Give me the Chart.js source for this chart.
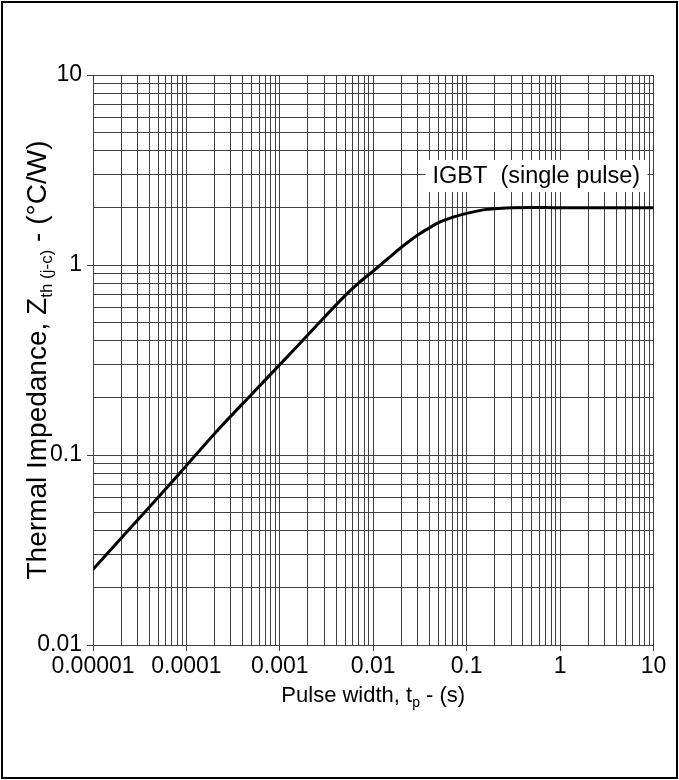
<!DOCTYPE html>
<html>
<head>
<meta charset="utf-8">
<script src="https://cdn.jsdelivr.net/npm/chart.js@4.4.1/dist/chart.umd.min.js"></script>
<style>
html,body{margin:0;padding:0;background:#fff;}
canvas{display:block;}
</style>
</head>
<body>
<canvas id="c" width="679" height="780"></canvas>
<script>
// ---- data ----
const pulseWidth = [1e-5, 2e-5, 5e-5, 1e-4, 2e-4, 5e-4, 1e-3, 2e-3, 5e-3, 7e-3, 1e-2, 1.5e-2, 2e-2, 3e-2, 4e-2, 5e-2, 7e-2, 0.1, 0.15, 0.2, 0.3, 0.5, 1, 2, 5, 10];
const zthIGBT    = [0.025, 0.0365, 0.060, 0.088, 0.1295, 0.209, 0.299, 0.429, 0.69, 0.805, 0.93, 1.10, 1.24, 1.44, 1.57, 1.67, 1.78, 1.87, 1.95, 1.98, 2.0, 2.01, 2.0, 2.0, 2.0, 2.0];
const xTickLabels = ['0.00001', '0.0001', '0.001', '0.01', '0.1', '1', '10'];
const yTickLabels = ['0.01', '0.1', '1', '10'];
const seriesLabel = 'IGBT  (single pulse)';
const xTitleParts = ['Pulse width, t', 'p', ' - (s)'];
const yTitleParts = ['Thermal Impedance, Z', 'th (j-c)', ' - (\u00B0C/W)'];
const xDecades = [-5, 1];
const yDecades = [-2, 1];

const FONT = '"Liberation Sans", Arial, Helvetica, sans-serif';

function buildTicks(lo, hi) {
  const t = [];
  for (let e = lo; e < hi; e++) {
    for (let k = 1; k <= 9; k++) t.push({ value: k * Math.pow(10, e) });
  }
  t.push({ value: Math.pow(10, hi) });
  return t;
}
function isMajor(v) {
  const l = Math.log10(v);
  return Math.abs(l - Math.round(l)) < 1e-9;
}
function labelFor(v, lo, labels) {
  if (!isMajor(v)) return '';
  return labels[Math.round(Math.log10(v)) - lo] || '';
}

const points = pulseWidth.map((t, i) => ({ x: t, y: zthIGBT[i] }));

function drawParts(ctx, parts, x, y, big, small, subShift) {
  let cx = x;
  parts.forEach((p, i) => {
    const sub = i === 1;
    ctx.font = (sub ? small : big) + 'px ' + FONT;
    ctx.fillText(p, cx, y + (sub ? subShift : 0));
    cx += ctx.measureText(p).width;
  });
}
function partsWidth(ctx, parts, big, small) {
  let w = 0;
  parts.forEach((p, i) => {
    ctx.font = (i === 1 ? small : big) + 'px ' + FONT;
    w += ctx.measureText(p).width;
  });
  return w;
}

const decorations = {
  id: 'decorations',
  afterDraw(chart) {
    const ctx = chart.ctx;
    const a = chart.chartArea;
    ctx.save();
    // series label box
    ctx.fillStyle = '#fff';
    ctx.fillRect(a.right - 228, a.top + 85, 222, 32);
    ctx.fillStyle = '#000';
    ctx.textBaseline = 'alphabetic';
    ctx.textAlign = 'left';
    ctx.font = '23.5px ' + FONT;
    ctx.fillText(seriesLabel, a.right - 221, a.top + 108);

    // x title
    const xw = partsWidth(ctx, xTitleParts, 22, 14);
    drawParts(ctx, xTitleParts, (a.left + a.right) / 2 - xw / 2, 702, 22, 14, 5);

    // y title (rotated)
    const yw = partsWidth(ctx, yTitleParts, 28, 17);
    ctx.save();
    ctx.translate(46, (a.top + a.bottom) / 2);
    ctx.rotate(-Math.PI / 2);
    drawParts(ctx, yTitleParts, -yw / 2, 0, 28, 17, 6);
    ctx.restore();

    // outer frame
    ctx.strokeStyle = '#000';
    ctx.lineWidth = 2;
    ctx.strokeRect(2, 2, 675, 776);
    ctx.restore();
  }
};

new Chart(document.getElementById('c'), {
  type: 'line',
  data: {
    datasets: [{
      label: seriesLabel,
      data: points,
      borderColor: '#000',
      borderWidth: 3,
      pointRadius: 0,
      fill: false,
      cubicInterpolationMode: 'monotone'
    }]
  },
  options: {
    responsive: false,
    animation: false,
    devicePixelRatio: 1,
    layout: { padding: { top: 75, right: 25.5, bottom: 95, left: 0 } },
    plugins: { legend: { display: false }, tooltip: { enabled: false } },
    scales: {
      x: {
        type: 'logarithmic',
        min: Math.pow(10, xDecades[0]),
        max: Math.pow(10, xDecades[1]),
        afterBuildTicks: s => { s.ticks = buildTicks(xDecades[0], xDecades[1]); },
        afterFit: s => { s.height = 40; },
        ticks: {
          autoSkip: false, maxRotation: 0, minRotation: 0, padding: 2,
          color: '#000', font: { family: FONT, size: 23 },
          callback: v => labelFor(v, xDecades[0], xTickLabels)
        },
        grid: {
          color: '#404040', lineWidth: 1, tickLength: 6,
          tickColor: c => (c.tick && isMajor(c.tick.value)) ? '#404040' : 'rgba(0,0,0,0)'
        },
        border: { display: true, color: '#404040', width: 1 }
      },
      y: {
        type: 'logarithmic',
        min: Math.pow(10, yDecades[0]),
        max: Math.pow(10, yDecades[1]),
        afterBuildTicks: s => { s.ticks = buildTicks(yDecades[0], yDecades[1]); },
        afterFit: s => { s.width = 93; },
        ticks: {
          autoSkip: false, padding: 5,
          color: '#000', font: { family: FONT, size: 23 },
          callback: v => labelFor(v, yDecades[0], yTickLabels)
        },
        grid: {
          color: '#404040', lineWidth: 1, tickLength: 6,
          tickColor: c => (c.tick && isMajor(c.tick.value)) ? '#404040' : 'rgba(0,0,0,0)'
        },
        border: { display: true, color: '#404040', width: 1 }
      }
    }
  },
  plugins: [decorations]
});
</script>
</body>
</html>
